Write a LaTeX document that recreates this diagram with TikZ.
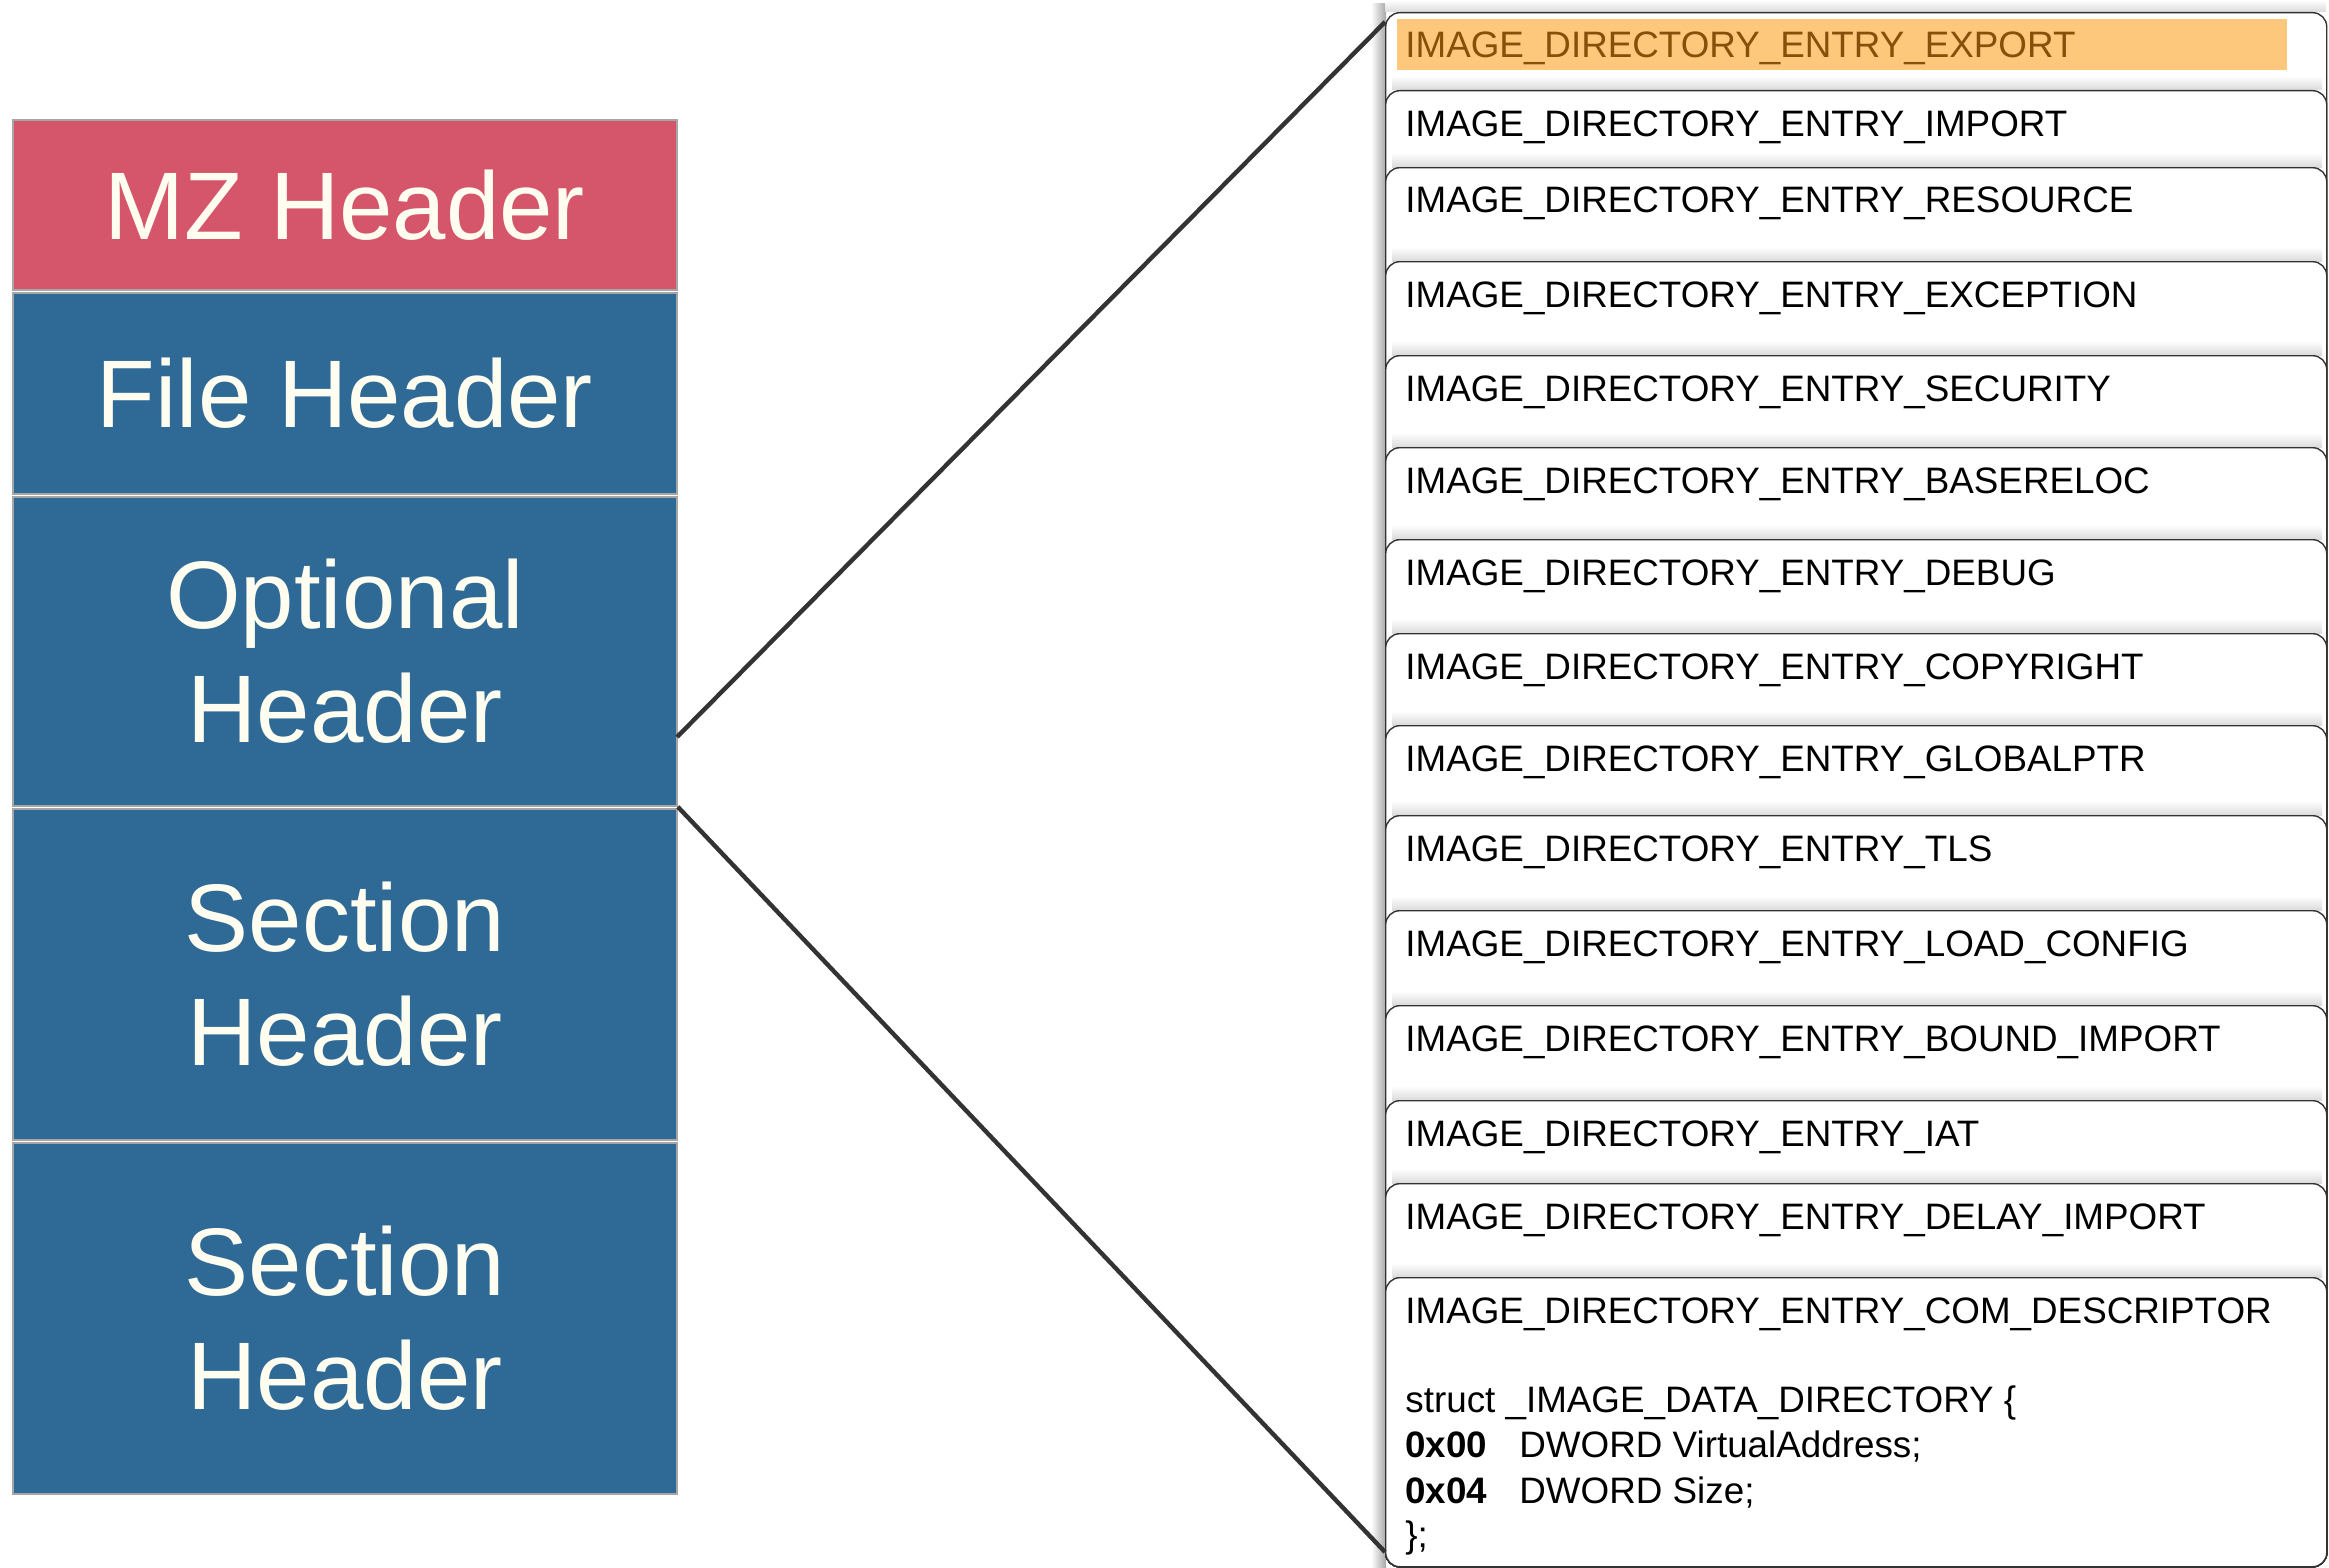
\documentclass[tikz,border=0pt]{standalone}
\usepackage{fontspec}
\setmainfont{Liberation Sans}
\definecolor{mzred}{HTML}{D5566A}
\definecolor{peblue}{HTML}{2F6A96}
\definecolor{cream}{HTML}{FFFDF0}
\definecolor{hilite}{HTML}{FEC87C}
\definecolor{hilitetext}{HTML}{86500A}
\begin{document}
\begin{tikzpicture}[x=0.5pt,y=-0.5pt,
  hdr/.style={draw=black!35, line width=0.8pt, text=cream, font=\fontsize{48}{57}\selectfont, align=center, minimum width=332pt, inner sep=0pt},
  card/.style={draw=black!80, fill=white, line width=0.7pt, rounded corners=7pt, anchor=north west, minimum width=470.5pt, inner sep=0pt},
  entry/.style={anchor=base west, font=\fontsize{18.4}{22}\selectfont, inner sep=0pt},
  conn/.style={draw=black!80, line width=2.2pt},
  cardshadow/.style={top color=white, bottom color=black!14}
]
\useasboundingbox (0,0) rectangle (2329,1568);
% left stack
\node[hdr, fill=mzred, minimum height=85pt] (mz) at (345,205) {MZ Header};
\node[hdr, fill=peblue, minimum height=100.5pt] (file) at (345,393.5) {File Header};
\node[hdr, fill=peblue, minimum height=154.5pt] (opt) at (345,651.5) {Optional\\Header};
\node[hdr, fill=peblue, minimum height=165.5pt] (sec1) at (345,974.5) {Section\\Header};
\node[hdr, fill=peblue, minimum height=175.5pt] (sec2) at (345,1318.5) {Section\\Header};
% left shadow of the card column
\shade[left color=white, right color=black!35] (1371,4) rectangle (1386,1568);
% card 1
\shade[cardshadow] (1385,0) rectangle (2326,12);
\node[card, minimum height=777pt] (card1) at (1385,12) {};
\fill[hilite] (1397,19) rectangle (2287,70);
\node[entry, text=hilitetext] (lab1) at (1405,58) {IMAGE\_DIRECTORY\_ENTRY\_EXPORT};
% remaining cards
\foreach \t/\txt [count=\i from 2] in {
  90/IMAGE\_DIRECTORY\_ENTRY\_IMPORT,
  167/IMAGE\_DIRECTORY\_ENTRY\_RESOURCE,
  261/IMAGE\_DIRECTORY\_ENTRY\_EXCEPTION,
  355/IMAGE\_DIRECTORY\_ENTRY\_SECURITY,
  447/IMAGE\_DIRECTORY\_ENTRY\_BASERELOC,
  539/IMAGE\_DIRECTORY\_ENTRY\_DEBUG,
  633/IMAGE\_DIRECTORY\_ENTRY\_COPYRIGHT,
  725/IMAGE\_DIRECTORY\_ENTRY\_GLOBALPTR,
  815/IMAGE\_DIRECTORY\_ENTRY\_TLS,
  910/IMAGE\_DIRECTORY\_ENTRY\_LOAD\_CONFIG,
  1005/IMAGE\_DIRECTORY\_ENTRY\_BOUND\_IMPORT,
  1100/IMAGE\_DIRECTORY\_ENTRY\_IAT,
  1183/IMAGE\_DIRECTORY\_ENTRY\_DELAY\_IMPORT,
  1277/IMAGE\_DIRECTORY\_ENTRY\_COM\_DESCRIPTOR}{
  \pgfmathsetmacro\h{(1566-\t)/2}
  \shade[cardshadow] (1392,\t-14) rectangle (2322,\t);
  \node[card, minimum height=\h pt] (card\i) at (1385,\t) {};
  \node[entry] (lab\i) at (1405,\t+46) {\txt};
}
% struct text
\node[entry] (st1) at (1405,1412) {struct \_IMAGE\_DATA\_DIRECTORY \{};
\node[entry] (st2a) at (1405,1457) {\textbf{0x00}};
\node[entry] (st2b) at (1519,1457) {DWORD VirtualAddress;};
\node[entry] (st3a) at (1405,1503) {\textbf{0x04}};
\node[entry] (st3b) at (1519,1503) {DWORD Size;};
\node[entry] (st4) at (1405,1547) {\};};
% connectors
\coordinate (s1) at (677,737);
\coordinate (e1) at (1385,22);
\coordinate (e2) at (1385,1552);
\draw[conn] (s1) -- (e1);
\draw[conn] (opt.south east) -- (e2);
\end{tikzpicture}
\end{document}
